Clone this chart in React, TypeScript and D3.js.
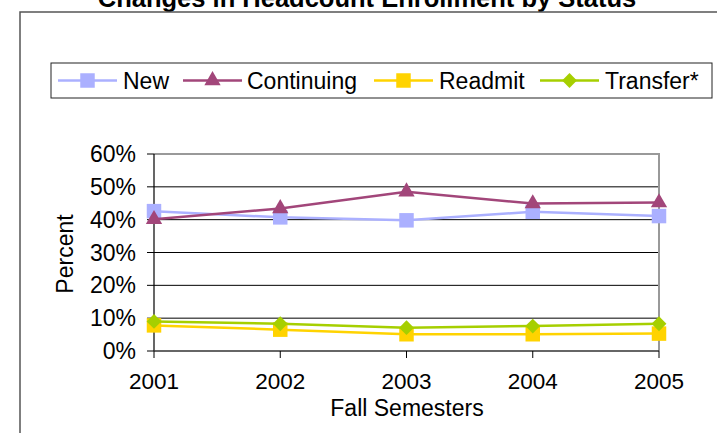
import * as d3 from 'd3';
import React from 'react';

const years = ['2001', '2002', '2003', '2004', '2005'];
const newVals = [0.426, 0.407, 0.398, 0.424, 0.411];
const continuingVals = [0.401, 0.434, 0.485, 0.449, 0.452];
const readmitVals = [0.078, 0.065, 0.051, 0.051, 0.053];
const transferVals = [0.090, 0.083, 0.071, 0.076, 0.083];
const yTicks = [0, 0.1, 0.2, 0.3, 0.4, 0.5, 0.6];

const series = [
    { name: 'New', values: newVals, color: '#abb0ff', shape: 'square' },
    { name: 'Continuing', values: continuingVals, color: '#a2467a', shape: 'triangle' },
    { name: 'Readmit', values: readmitVals, color: '#ffd300', shape: 'square' },
    { name: 'Transfer*', values: transferVals, color: '#a6cf00', shape: 'diamond' },
];

const font = "'Liberation Sans', Arial, sans-serif";

function Marker({ shape, x, y, color }) {
    let d;
    let rot = 0;
    if (shape === 'triangle') d = d3.symbol(d3.symbolTriangle, 115)();
    else if (shape === 'diamond') { d = d3.symbol(d3.symbolSquare, 110)(); rot = 45; }
    else d = d3.symbol(d3.symbolSquare, 210)();
    return <path d={d} fill={color} transform={`translate(${x},${y}) rotate(${rot})`} />;
}

export default function App() {
    const width = 717, height = 433;
    const left = 154, right = 659, top = 154, bottom = 351;

    const x = d3.scalePoint().domain(years).range([left, right]);
    const y = d3.scaleLinear().domain([0, 0.6]).range([bottom, top]);
    const line = d3.line().x((d, i) => x(years[i])).y(d => y(d));

    // legend layout
    const legendItems = [
        { lineStart: 58, textX: 123 },
        { lineStart: 183, textX: 247 },
        { lineStart: 374, textX: 439 },
        { lineStart: 540, textX: 605 },
    ];

    return (
        <svg width={width} height={height} style={{ position: 'absolute', left: 0, top: 0, background: '#fff' }}
            fontFamily={font}>
            <text x={367} y={6.5} textAnchor="middle" fontWeight="bold" fontSize={25.5}>
                Changes in Headcount Enrollment by Status
            </text>
            {/* outer frame */}
            <path d={`M20,${height} V12 H${width}`} fill="none" stroke="#555" strokeWidth={1.5} />

            {/* legend */}
            <rect x={51} y={63} width={661} height={35} fill="#fff" stroke="#222" strokeWidth={1} />
            {series.map((s, i) => {
                const it = legendItems[i];
                return (
                    <g key={s.name}>
                        <line x1={it.lineStart} x2={it.lineStart + 59} y1={80.5} y2={80.5} stroke={s.color} strokeWidth={2.5} />
                        <Marker shape={s.shape} x={it.lineStart + 29.5} y={80.5} color={s.color} />
                        <text x={it.textX} y={89} fontSize={23}>{s.name}</text>
                    </g>
                );
            })}

            {/* gridlines */}
            {yTicks.slice(1, -1).map(t => (
                <line key={t} x1={left} x2={right} y1={y(t)} y2={y(t)} stroke="#000" strokeWidth={1} />
            ))}
            {/* plot border top/right */}
            <path d={`M${left},${top} H${right} V${bottom}`} fill="none" stroke="#999" strokeWidth={2} />

            {/* y axis */}
            <line x1={left} x2={left} y1={top} y2={bottom} stroke="#000" strokeWidth={1.2} />
            {yTicks.map(t => (
                <g key={t}>
                    <line x1={left - 7} x2={left} y1={y(t)} y2={y(t)} stroke="#000" strokeWidth={1} />
                    <text x={136} y={y(t) + 8} textAnchor="end" fontSize={23}>{`${Math.round(t * 100)}%`}</text>
                </g>
            ))}
            <text transform={`translate(73,254) rotate(-90)`} textAnchor="middle" fontSize={23}>Percent</text>

            {/* x axis */}
            <line x1={left} x2={right} y1={bottom} y2={bottom} stroke="#333" strokeWidth={1.5} />
            {years.map(yr => (
                <g key={yr}>
                    <line x1={x(yr)} x2={x(yr)} y1={bottom} y2={bottom + 7} stroke="#000" strokeWidth={1} />
                    <text x={x(yr)} y={bottom + 38} textAnchor="middle" fontSize={22.5}>{yr}</text>
                </g>
            ))}
            <text x={407} y={bottom + 65} textAnchor="middle" fontSize={23}>Fall Semesters</text>

            {/* series */}
            {series.map(s => (
                <g key={s.name}>
                    <path d={line(s.values)} fill="none" stroke={s.color} strokeWidth={2.5} />
                    {s.values.map((v, i) => (
                        <Marker key={i} shape={s.shape} x={x(years[i])} y={y(v)} color={s.color} />
                    ))}
                </g>
            ))}
        </svg>
    );
}
